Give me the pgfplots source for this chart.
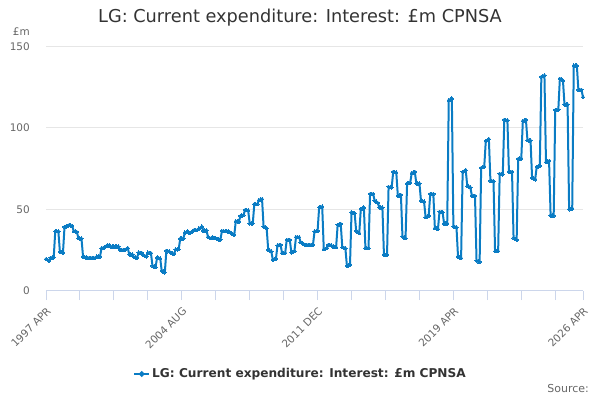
\documentclass[border=0pt]{standalone}
\usepackage{pgfplots}
\pgfplotsset{compat=1.18}
\usepackage{pgfplotstable}
\usepackage{fontspec}
\setmainfont{DejaVu Sans}
\definecolor{lineblue}{HTML}{0A7CC4}
\definecolor{txt}{HTML}{333333}
\definecolor{lab}{HTML}{666666}
\definecolor{gridc}{HTML}{E6E6E6}
\definecolor{axc}{HTML}{CCD6EB}
\pgfplotstableread[row sep=\\]{
m v\\
0 19.4\\ 1 19.0\\ 2 18.5\\
3 20.2\\ 4 20.3\\ 5 20.4\\
6 36.5\\ 7 36.5\\ 8 36.5\\
9 24.0\\ 10 23.6\\ 11 23.3\\
12 39.2\\ 13 39.4\\ 14 39.6\\
15 40.4\\ 16 40.1\\ 17 39.8\\
18 36.5\\ 19 36.3\\ 20 36.1\\
21 32.2\\ 22 32.1\\ 23 32.0\\
24 21.0\\ 25 20.7\\ 26 20.4\\
27 20.2\\ 28 20.2\\ 29 20.2\\
30 20.2\\ 31 20.2\\ 32 20.2\\
33 21.0\\ 34 21.0\\ 35 21.0\\
36 26.1\\ 37 26.3\\ 38 26.5\\
39 27.3\\ 40 27.7\\ 41 28.1\\
42 27.1\\ 43 27.1\\ 44 27.1\\
45 27.1\\ 46 27.1\\ 47 27.1\\
48 25.1\\ 49 25.1\\ 50 25.1\\
51 25.1\\ 52 25.6\\ 53 26.1\\
54 22.2\\ 55 22.2\\ 56 22.2\\
57 20.6\\ 58 20.4\\ 59 20.2\\
60 23.4\\ 61 23.3\\ 62 23.3\\
63 21.8\\ 64 21.4\\ 65 21.0\\
66 23.4\\ 67 23.2\\ 68 23.1\\
69 15.3\\ 70 14.9\\ 71 14.5\\
72 20.4\\ 73 20.1\\ 74 19.8\\
75 12.2\\ 76 11.7\\ 77 11.2\\
78 24.5\\ 79 24.2\\ 80 24.0\\
81 23.0\\ 82 22.8\\ 83 22.6\\
84 25.3\\ 85 25.4\\ 86 25.5\\
87 32.0\\ 88 32.0\\ 89 32.0\\
90 35.8\\ 91 36.0\\ 92 36.3\\
93 35.5\\ 94 35.9\\ 95 36.3\\
96 37.3\\ 97 37.3\\ 98 37.3\\
99 38.1\\ 100 38.6\\ 101 39.4\\
102 36.7\\ 103 36.9\\ 104 37.1\\
105 32.9\\ 106 32.5\\ 107 32.2\\
108 32.9\\ 109 32.5\\ 110 32.2\\
111 31.8\\ 112 31.5\\ 113 31.2\\
114 36.7\\ 115 36.6\\ 116 36.5\\
117 36.7\\ 118 36.4\\ 119 36.1\\
120 35.3\\ 121 34.8\\ 122 34.3\\
123 42.7\\ 124 42.5\\ 125 42.4\\
126 45.9\\ 127 46.2\\ 128 46.5\\
129 49.6\\ 130 49.5\\ 131 49.4\\
132 41.4\\ 133 41.4\\ 134 41.4\\
135 53.2\\ 136 53.2\\ 137 53.2\\
138 55.7\\ 139 56.0\\ 140 56.3\\
141 39.4\\ 142 38.9\\ 143 38.4\\
144 25.1\\ 145 24.6\\ 146 24.1\\
147 19.0\\ 148 19.3\\ 149 19.6\\
150 27.7\\ 151 28.0\\ 152 28.2\\
153 23.1\\ 154 23.1\\ 155 23.1\\
156 31.2\\ 157 31.2\\ 158 31.2\\
159 23.4\\ 160 23.8\\ 161 24.3\\
162 32.9\\ 163 32.9\\ 164 32.9\\
165 29.8\\ 166 29.2\\ 167 28.6\\
168 28.2\\ 169 28.2\\ 170 28.2\\
171 28.2\\ 172 28.2\\ 173 28.2\\
174 36.3\\ 175 36.5\\ 176 36.7\\
177 51.2\\ 178 51.4\\ 179 51.6\\
180 25.5\\ 181 25.8\\ 182 26.1\\
183 28.2\\ 184 28.0\\ 185 27.7\\
186 27.1\\ 187 26.9\\ 188 26.7\\
189 40.4\\ 190 40.7\\ 191 41.0\\
192 26.7\\ 193 26.4\\ 194 26.1\\
195 15.3\\ 196 15.6\\ 197 15.9\\
198 48.2\\ 199 47.9\\ 200 47.6\\
201 36.7\\ 202 36.0\\ 203 35.3\\
204 50.2\\ 205 50.6\\ 206 51.0\\
207 26.1\\ 208 26.1\\ 209 26.1\\
210 59.4\\ 211 59.4\\ 212 59.4\\
213 55.3\\ 214 54.7\\ 215 54.0\\
216 51.2\\ 217 51.1\\ 218 51.0\\
219 22.0\\ 220 22.0\\ 221 22.0\\
222 63.8\\ 223 63.6\\ 224 63.4\\
225 73.0\\ 226 72.8\\ 227 72.6\\
228 58.3\\ 229 58.6\\ 230 58.8\\
231 33.2\\ 232 32.7\\ 233 32.2\\
234 65.9\\ 235 66.1\\ 236 66.3\\
237 72.2\\ 238 72.6\\ 239 73.0\\
240 65.9\\ 241 65.9\\ 242 65.9\\
243 55.3\\ 244 55.0\\ 245 54.7\\
246 45.1\\ 247 45.5\\ 248 45.9\\
249 59.4\\ 250 59.4\\ 251 59.4\\
252 38.4\\ 253 38.2\\ 254 37.9\\
255 48.5\\ 256 48.4\\ 257 48.2\\
258 41.0\\ 259 41.2\\ 260 41.4\\
261 117.0\\ 262 117.5\\ 263 118.0\\
264 39.4\\ 265 39.2\\ 266 39.0\\
267 21.0\\ 268 20.5\\ 269 20.0\\
270 73.0\\ 271 73.5\\ 272 74.0\\
273 64.3\\ 274 63.9\\ 275 63.5\\
276 58.3\\ 277 58.3\\ 278 58.3\\
279 18.4\\ 280 18.0\\ 281 17.7\\
282 75.5\\ 283 75.9\\ 284 76.3\\
285 92.0\\ 286 92.5\\ 287 93.0\\
288 67.5\\ 289 67.4\\ 290 67.3\\
291 24.3\\ 292 24.3\\ 293 24.3\\
294 71.8\\ 295 71.6\\ 296 71.4\\
297 105.0\\ 298 104.8\\ 299 104.7\\
300 73.0\\ 301 73.0\\ 302 73.0\\
303 32.3\\ 304 31.8\\ 305 31.2\\
306 81.0\\ 307 81.1\\ 308 81.2\\
309 104.2\\ 310 104.6\\ 311 105.0\\
312 92.4\\ 313 92.3\\ 314 92.2\\
315 69.3\\ 316 68.9\\ 317 68.4\\
318 76.1\\ 319 76.4\\ 320 76.7\\
321 131.4\\ 322 131.8\\ 323 132.2\\
324 78.9\\ 325 79.3\\ 326 79.7\\
327 46.3\\ 328 46.2\\ 329 46.1\\
330 111.0\\ 331 111.1\\ 332 111.2\\
333 130.2\\ 334 129.7\\ 335 129.1\\
336 114.4\\ 337 114.3\\ 338 114.3\\
339 50.0\\ 340 50.3\\ 341 50.6\\
342 138.3\\ 343 138.3\\ 344 138.3\\
345 123.4\\ 346 123.4\\ 347 123.4\\
348 118.9\\
}\lgdata
\begin{document}
\begin{tikzpicture}[x=1bp,y=1bp]
\useasboundingbox (0,0) rectangle (600,400);
\node[font=\fontsize{17.8}{21}\selectfont, text=txt] at (300,382) {LG: Current expenditure: Interest: £m CPNSA};
\node[font=\fontsize{10.5}{12}\selectfont, text=lab, anchor=east, inner sep=0pt] at (30,368) {£m};
\node[font=\fontsize{11}{13}\selectfont, text=lab, anchor=east, inner sep=0pt] at (589,11) {Source:};
\begin{axis}[
  at={(46bp,109.3bp)}, anchor=south west,
  scale only axis, width=537bp, height=244.2bp,
  xmin=0, xmax=348, ymin=0, ymax=150,
  clip=false,
  axis x line*=bottom, axis y line*=left,
  y axis line style={draw=none},
  x axis line style={draw=axc, line width=1bp},
  ymajorgrids, grid style={draw=gridc, line width=1bp},
  ytick={0,50,100,150},
  xtick={0,88,176,264,348},
  xticklabels={1997 APR,2004 AUG,2011 DEC,2019 APR,2026 APR},
  extra x ticks={22,44,66,110,132,154,198,220,242,286,308,330},
  extra x tick labels={},
  extra x tick style={x tick style={draw=axc, line width=1bp}, major tick length=9.5bp},
  xtick align=outside,
  x tick style={draw=axc, line width=1bp},
  y tick style={draw=none},
  major tick length=9.5bp,
  /pgf/number format/assume math mode=true,
  yticklabel style={font=\fontsize{10.5}{12}\selectfont, text=lab, anchor=east, inner sep=0pt, xshift=-16bp},
  xticklabel style={font=\fontsize{10.5}{12}\selectfont, text=lab, xshift=3bp, yshift=-9bp, rotate=45, anchor=east, inner sep=0pt},
  legend style={at={(0.474,-0.341)}, anchor=center, draw=none, fill=none,
    font=\fontsize{12.2}{14}\selectfont\bfseries, text=txt, inner sep=0pt},
  legend image code/.code={\draw[#1, mark=none, line width=2bp] (0bp,0bp) -- (15bp,0bp);
     \fill[lineblue] (7.5bp,0bp) circle (1.8bp);},
]
\addplot[color=lineblue, line width=2bp, mark=*, mark size=1.7bp, mark options={fill=lineblue, draw=lineblue, line width=0pt}] table[x=m, y=v] {\lgdata};
\addlegendentry{LG: Current expenditure: Interest: £m CPNSA}
\end{axis}
\end{tikzpicture}
\end{document}
